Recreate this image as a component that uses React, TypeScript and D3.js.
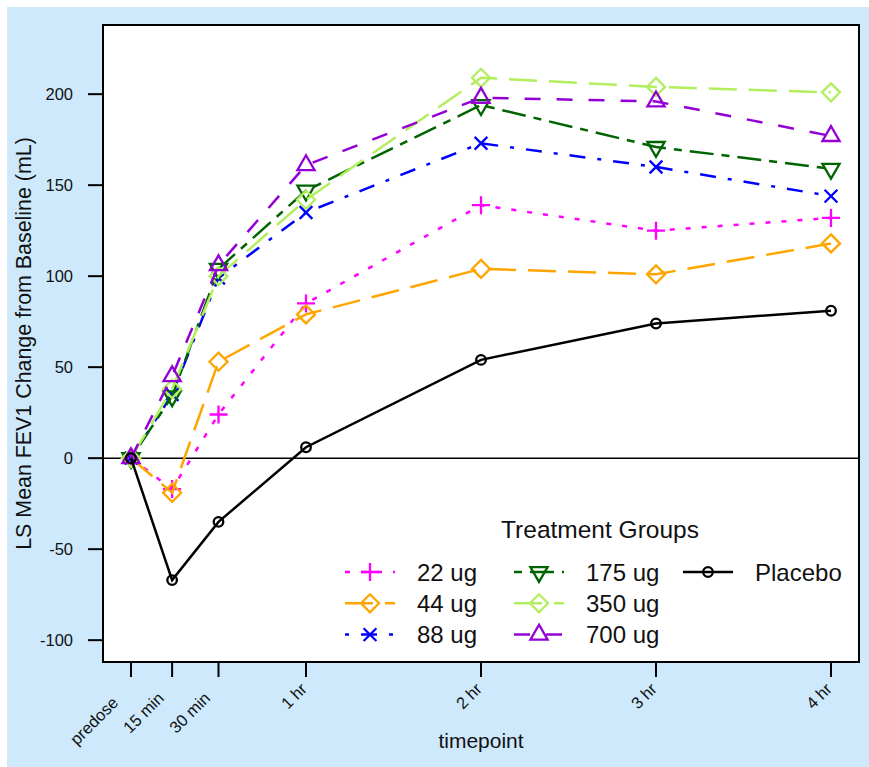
import React from "react";
import * as d3 from "d3";

// timepoints (hours after dose) and their axis labels
const timepointLabels = ["predose", "15 min", "30 min", "1 hr", "2 hr", "3 hr", "4 hr"];
const timepointHours = [0, 0.235, 0.5, 1, 2, 3, 4];
const yTicks = [-100, -50, 0, 50, 100, 150, 200];

// LS mean change from baseline (mL) per treatment group
const dose22 = [0, -17, 24, 85, 139, 125, 132];
const dose44 = [0, -19, 53, 79, 104, 101, 118];
const dose88 = [0, 35, 99, 135, 173, 160, 144];
const dose175 = [0, 34, 104, 147, 194, 171, 159];
const dose350 = [0, 38, 100, 142, 209, 204, 201];
const dose700 = [0, 45, 106, 161, 198, 196, 177];
const placebo = [0, -67, -35, 6, 54, 74, 81];

const groupNames = ["22 ug", "44 ug", "88 ug", "175 ug", "350 ug", "700 ug", "Placebo"];
const groupValues = [dose22, dose44, dose88, dose175, dose350, dose700, placebo];
const groupColors = ["#ff00ff", "#ffa500", "#0000ff", "#006400", "#b3ee5f", "#9400d3", "#000000"];
const groupDashes = ["5 11", "28 12", "4 12 16 12", "8 8 24 8", "28 12", "16 16", ""];
const groupMarkers = ["plus", "diamond", "cross", "triangleDown", "diamond", "triangle", "circle"];

const W = 869;
const H = 767;
const margin = { top: 25, right: 10, bottom: 105, left: 103 };
const font = "'Liberation Sans', Arial, sans-serif";

function Marker({ type, x, y, color }) {
  const s = 17 * 0.375;
  const common = { fill: "none", stroke: color, strokeWidth: 2.3 };
  if (type === "circle") return <circle cx={x} cy={y} r={4.8} {...common} />;
  if (type === "plus") {
    const h = s * Math.SQRT2;
    return <path d={`M${x - h},${y}H${x + h}M${x},${y - h}V${y + h}`} {...common} />;
  }
  if (type === "cross") {
    return <path d={`M${x - s},${y - s}L${x + s},${y + s}M${x - s},${y + s}L${x + s},${y - s}`} {...common} />;
  }
  if (type === "diamond") {
    const h = s * Math.SQRT2;
    return <path d={`M${x},${y - h}L${x + h},${y}L${x},${y + h}L${x - h},${y}Z`} {...common} />;
  }
  const r = 1.5551 * s;
  const xc = r * 0.866;
  const dir = type === "triangle" ? 1 : -1;
  return (
    <path
      d={`M${x},${y - dir * r}L${x + xc},${y + dir * r / 2}L${x - xc},${y + dir * r / 2}Z`}
      {...common}
    />
  );
}

export default function App() {
  const x = d3.scaleLinear().domain([-0.16, 4.16]).range([margin.left, W - margin.right]);
  const y = d3.scaleLinear().domain([-112, 238]).range([H - margin.bottom, margin.top]);
  const [x0, x1] = x.range();
  const [yb, yt] = y.range();

  const line = d3
    .line<number>()
    .x((_, i) => x(timepointHours[i]))
    .y((d) => y(d));

  const legendCols = [345, 514, 683];
  const legendRows = [572, 603.3, 634.6];

  return (
    <svg
      width={W}
      height={H}
      style={{ position: "absolute", left: 0, top: 0, fontFamily: font }}
    >
      <rect x={0} y={0} width={W} height={H} fill="#ffffff" />
      <rect x={7} y={7} width={W - 7} height={H - 7} fill="#cde9fb" />
      <rect x={x0} y={yt} width={x1 - x0} height={yb - yt} fill="#ffffff" />

      {/* zero reference line */}
      <line x1={x0} x2={x1} y1={y(0)} y2={y(0)} stroke="#000" strokeWidth={1.5} />

      {groupValues.map((vals, g) => (
        <g key={groupNames[g]}>
          <path
            d={line(vals) || ""}
            fill="none"
            stroke={groupColors[g]}
            strokeWidth={2.5}
            strokeDasharray={groupDashes[g] || undefined}
          />
          {vals.map((v, i) => (
            <Marker key={i} type={groupMarkers[g]} x={x(timepointHours[i])} y={y(v)} color={groupColors[g]} />
          ))}
        </g>
      ))}

      <rect x={x0} y={yt} width={x1 - x0} height={yb - yt} fill="none" stroke="#000" strokeWidth={2} />

      {/* y axis */}
      {yTicks.map((t) => (
        <g key={t}>
          <line x1={x0 - 15} x2={x0} y1={y(t)} y2={y(t)} stroke="#000" strokeWidth={2} />
          <text x={73} y={y(t)} dy="0.36em" textAnchor="end" fontSize={16.5} fill="#111">
            {t}
          </text>
        </g>
      ))}
      <text
        transform={`translate(31, ${(yt + yb) / 2}) rotate(-90)`}
        textAnchor="middle"
        fontSize={21.4}
        fill="#111"
      >
        LS Mean FEV1 Change from Baseline (mL)
      </text>

      {/* x axis */}
      {timepointLabels.map((lab, i) => {
        const tx = x(timepointHours[i]);
        const shift = 6.5 * (lab.length - 4);
        return (
          <g key={lab}>
            <line x1={tx} x2={tx} y1={yb} y2={yb + 15} stroke="#000" strokeWidth={2} />
            <text
              transform={`translate(${tx + 2}, 690) rotate(-45)`}
              dx={-shift}
              textAnchor="end"
              fontSize={16.5}
              fill="#111"
            >
              {lab}
            </text>
          </g>
        );
      })}
      <text x={(x0 + x1) / 2} y={748} textAnchor="middle" fontSize={21} fill="#111">
        timepoint
      </text>

      {/* legend */}
      <text x={600} y={538} textAnchor="middle" fontSize={24.5} fill="#111">
        Treatment Groups
      </text>
      {groupNames.map((name, g) => {
        const cx = legendCols[Math.floor(g / 3)];
        const cy = legendRows[g % 3];
        return (
          <g key={name}>
            <line
              x1={cx}
              x2={cx + 50}
              y1={cy}
              y2={cy}
              stroke={groupColors[g]}
              strokeWidth={2.5}
              strokeDasharray={groupDashes[g] || undefined}
            />
            <Marker type={groupMarkers[g]} x={cx + 25} y={cy} color={groupColors[g]} />
            <text x={cx + 72} y={cy} dy="0.36em" fontSize={24} fill="#111">
              {name}
            </text>
          </g>
        );
      })}
    </svg>
  );
}
